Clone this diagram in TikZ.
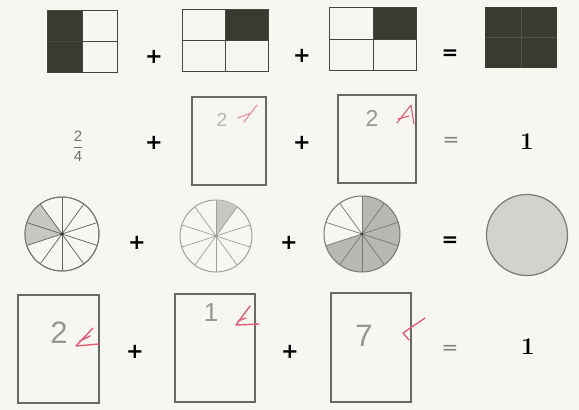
\documentclass[tikz,border=0pt]{standalone}
\usepackage{fontspec}
\newfontfamily\handfont{Liberation Sans}
\newfontfamily\opfont{DejaVu Sans}
\definecolor{paper}{RGB}{248,246,241}
\definecolor{darkfill}{RGB}{58,58,48}
\definecolor{boxline}{RGB}{70,70,70}
\definecolor{penline}{RGB}{105,105,100}
\definecolor{pencil}{RGB}{150,150,148}
\definecolor{redpen}{RGB}{222,95,120}
\definecolor{pieline}{RGB}{120,120,118}
\definecolor{piefill}{RGB}{200,199,194}
\begin{document}
\begin{tikzpicture}[x=1pt,y=-1pt, every node/.style={inner sep=0pt},
  quad/.style={draw=boxline,line width=0.9pt},
  answer/.style={draw=penline,line width=1.1pt,rectangle},
  plus/.style={font=\opfont\bfseries\fontsize{21}{21}\selectfont},
  eqbold/.style={font=\opfont\bfseries\fontsize{20}{20}\selectfont},
  eqthin/.style={font=\opfont\fontsize{20}{20}\selectfont,text=pencil!85!black},
  hand/.style={font=\handfont\fontsize{31}{31}\selectfont,text=pencil},
  tick/.style={draw=redpen,line width=1.4pt,line cap=round,line join=round},
  pie/.style={draw=pieline,line width=0.7pt},
  ring/.style={circle,draw=pieline,line width=1pt}]
\useasboundingbox[fill=paper] (0,0) rectangle (579,410);
% row 1: quarters
\path node[minimum width=69pt,minimum height=61pt] (q1) at (82.5,41.5) {};
\fill[darkfill] (q1.north west) rectangle (q1.south);
\draw[quad] (q1.north west) rectangle (q1.south east) (q1.north) -- (q1.south) (q1.west) -- (q1.east);
\node[plus] (p1) at (154,57) {+};
\path node[minimum width=85pt,minimum height=61pt] (q2) at (225.5,40.5) {};
\fill[darkfill] (q2.north) rectangle (q2.east);
\draw[quad] (q2.north west) rectangle (q2.south east) (q2.north) -- (q2.south) (q2.west) -- (q2.east);
\node[plus] (p2) at (302,56) {+};
\path node[minimum width=86pt,minimum height=62pt] (q3) at (373,39) {};
\fill[darkfill] (q3.north) rectangle (q3.east);
\draw[quad] (q3.north west) rectangle (q3.south east) (q3.north) -- (q3.south) (q3.west) -- (q3.east);
\node[eqbold] (e1) at (450,55) {=};
\node[fill=darkfill,minimum width=72pt,minimum height=61pt] (q4) at (521,37.5) {};
\draw[darkfill!88!white,line width=0.5pt] (q4.north) -- (q4.south) (q4.west) -- (q4.east);
% row 2: written answers
\node[text=pencil!75!black,font=\handfont\fontsize{15}{15}\selectfont] (f1) at (78,146) {$\displaystyle\frac{\mbox{2}}{\mbox{4}}$};
\node[plus] (p3) at (154,143) {+};
\node[answer,minimum width=74pt,minimum height=88pt] (b1) at (229,141) {};
\node[hand,font=\handfont\fontsize{19}{19}\selectfont,text=pencil!70] (h1) at (222,120) {2};
\draw[tick,line width=1.1pt,redpen!70] (238,118) -- (251,113) (244,122) -- (257,105);
\node[plus] (p4) at (302,143) {+};
\node[answer,minimum width=78pt,minimum height=88pt] (b2) at (377,139) {};
\node[hand,font=\handfont\fontsize{23}{23}\selectfont] (h2) at (372,118) {2};
\draw[tick,line width=1.1pt] (397,123) -- (411,105) -- (414,124) (398,119) -- (409,116);
\node[eqthin] (e2) at (451,142) {=};
\node[font=\fontsize{24}{24}\selectfont\bfseries] (one1) at (527,142) {1};
% row 3: tenths
\node[ring,minimum size=74pt] (c1) at (62,234) {};
\fill[piefill] (c1.center) -- ++(162:37) arc (162:234:37) -- cycle;
\foreach \a in {18,54,...,342} \draw[pie,draw=pieline!80!black] (c1.center) -- ++(\a:37);
\node[ring,minimum size=74pt] (c1b) at (62,234) {};
\fill[black!80] (c1.center) circle (1.6);
\node[plus] (p5) at (137,243) {+};
\node[ring,minimum size=72pt,draw=pieline!70] (c2) at (216,236) {};
\fill[piefill] (c2.center) -- ++(270:36) arc (270:306:36) -- cycle;
\foreach \a in {18,54,...,342} \draw[pie,draw=pieline!70] (c2.center) -- ++(\a:36);
\node[plus] (p6) at (289,243) {+};
\fill[piefill!92!black] (362,234) -- ++(-90:38) arc (-90:162:38) -- cycle;
\node[ring,minimum size=76pt] (c3) at (362,234) {};
\foreach \a in {18,54,...,342} \draw[pie] (c3.center) -- ++(\a:38);
\fill[black!80] (c3.center) circle (1.4);
\node[eqbold] (e3) at (450,242) {=};
\node[ring,minimum size=81pt,fill=piefill!80,line width=1.2pt] (c4) at (527,235) {};
% row 4: counted pieces
\node[answer,minimum width=81pt,minimum height=108pt] (d1) at (58.5,349) {};
\node[hand] (h3) at (59,333) {2};
\draw[tick] (93,328) -- (76,346) -- (99,344) (80,341) -- (90,336);
\node[plus] (p7) at (135,352) {+};
\node[answer,minimum width=80pt,minimum height=108pt] (d2) at (215,348) {};
\node[hand,font=\handfont\fontsize{26}{26}\selectfont] (h4) at (211,313) {1};
\draw[tick] (250,306) -- (236,325) -- (259,324) (238,321) -- (246,318);
\node[plus] (p8) at (290,352) {+};
\node[answer,minimum width=80pt,minimum height=109pt] (d3) at (371,347.5) {};
\node[hand] (h5) at (364,336) {7};
\draw[tick] (425,318) -- (403,333) -- (409,340);
\node[eqthin] (e4) at (450,350) {=};
\node[font=\fontsize{24}{24}\selectfont\bfseries] (one2) at (528,347) {1};
\end{tikzpicture}
\end{document}
